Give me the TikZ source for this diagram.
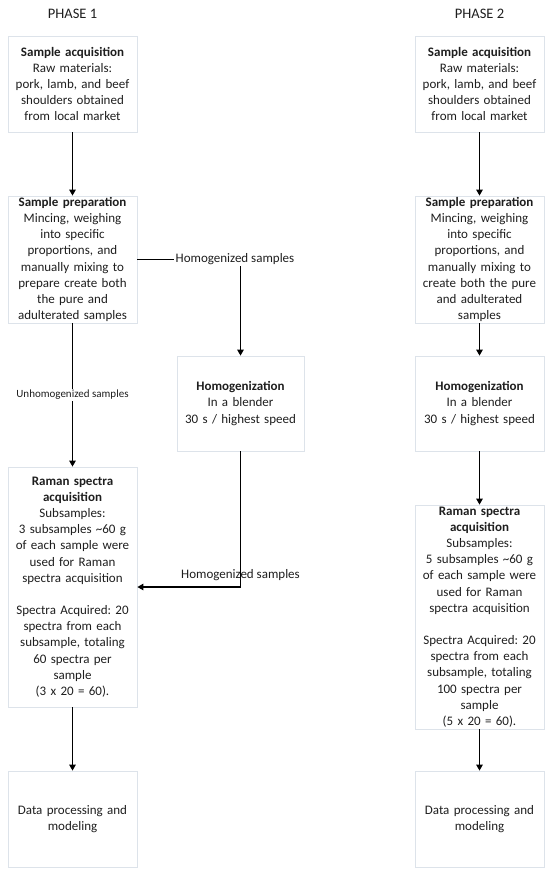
\documentclass[tikz,border=0pt]{standalone}
\usepackage{fontspec}
\setmainfont{Carlito}
\usetikzlibrary{arrows.meta}
\tikzset{>={Triangle[length=6pt,width=6.5pt]}}
\definecolor{boxline}{HTML}{DDE3EA}
\definecolor{ink}{HTML}{1E1E1E}
\frenchspacing

\begin{document}
\begin{tikzpicture}[x=1pt, y=-1pt,
    stage/.style={draw=boxline, line width=.8pt, text=ink, align=center,
      text width=129pt, inner sep=0pt, font=\fontsize{13}{16.2}\selectfont},
    tag/.style={text=ink, inner sep=1pt, font=\fontsize{13}{16}\selectfont},
    title/.style={text=ink, inner sep=1pt, font=\fontsize{14.5}{17}\selectfont},
    smalltag/.style={text=ink, fill=white, inner sep=1pt, font=\fontsize{11}{13}\selectfont},
    flow/.style={->, line width=1.2pt, black}]
      \useasboundingbox (0,0) rectangle (550,875);
      % titles
      \node[title] (ph1) at (72.5, 14) {PHASE 1};
      \node[title] (ph2) at (479.5, 14) {PHASE 2};
      % phase 1 boxes
      \node[stage, minimum height=96pt] (acq1) at (72.5, 84)
        {\textbf{Sample acquisition}\\ Raw materials:\\ pork, lamb, and beef\\ shoulders obtained\\ from local market};
      \node[stage, minimum height=127pt] (prep1) at (72.5, 259.5)
        {\textbf{Sample preparation}\\ Mincing, weighing\\ into specific\\ proportions, and\\ manually mixing to\\ prepare create both\\ the pure and\\ adulterated samples};
      \node[stage, text width=127pt, minimum height=95pt] (homog1) at (240.5, 403.5)
        {\textbf{Homogenization}\\ In a blender\\ 30 s / highest speed};
      \node[stage, minimum height=240pt] (raman1) at (72.5, 587)
        {\textbf{Raman spectra}\\ \textbf{acquisition}\\ Subsamples:\\ 3 subsamples \textasciitilde 60 g\\ of each sample were\\ used for Raman\\ spectra acquisition\\[16pt] Spectra Acquired: 20\\ spectra from each\\ subsample, totaling\\ 60 spectra per\\ sample\\ (3 x 20 = 60).};
      \node[stage, minimum height=96pt] (data1) at (72.5, 819)
        {Data processing and\\ modeling};
      % phase 2 boxes
      \node[stage, minimum height=96pt] (acq2) at (479.5, 84)
        {\textbf{Sample acquisition}\\ Raw materials:\\ pork, lamb, and beef\\ shoulders obtained\\ from local market};
      \node[stage, minimum height=127pt] (prep2) at (479.5, 259.5)
        {\textbf{Sample preparation}\\ Mincing, weighing\\ into specific\\ proportions, and\\ manually mixing to\\ create both the pure\\ and adulterated\\ samples};
      \node[stage, minimum height=95pt] (homog2) at (479.5, 403.5)
        {\textbf{Homogenization}\\ In a blender\\ 30 s / highest speed};
      \node[stage, minimum height=224pt] (raman2) at (479.5, 617)
        {\textbf{Raman spectra}\\ \textbf{acquisition}\\ Subsamples:\\ 5 subsamples \textasciitilde 60 g\\ of each sample were\\ used for Raman\\ spectra acquisition\\[16pt] Spectra Acquired: 20\\ spectra from each\\ subsample, totaling\\ 100 spectra per\\ sample\\ (5 x 20 = 60).};
      \node[stage, minimum height=96pt] (data2) at (479.5, 819)
        {Data processing and\\ modeling};
      % phase 1 arrows
      \node[tag] (hs1) at (235, 259.5) {Homogenized samples};
      \draw[flow] (acq1) -- (prep1);
      \draw[line width=1.2pt] (prep1.east) -- (hs1.west);
      \draw[flow] (hs1.south -| homog1.north) -- (homog1.north);
      \draw[flow] (prep1) -- node[smalltag] {Unhomogenized samples} (raman1);
      \draw[flow] (homog1.south) |- node[tag, above=5pt] {Homogenized samples} (raman1.east);
      \draw[flow] (raman1) -- (data1);
      % phase 2 arrows
      \draw[flow] (acq2) -- (prep2);
      \draw[flow] (prep2) -- (homog2);
      \draw[flow] (homog2) -- (raman2);
      \draw[flow] (raman2) -- (data2);
\end{tikzpicture}
\end{document}
